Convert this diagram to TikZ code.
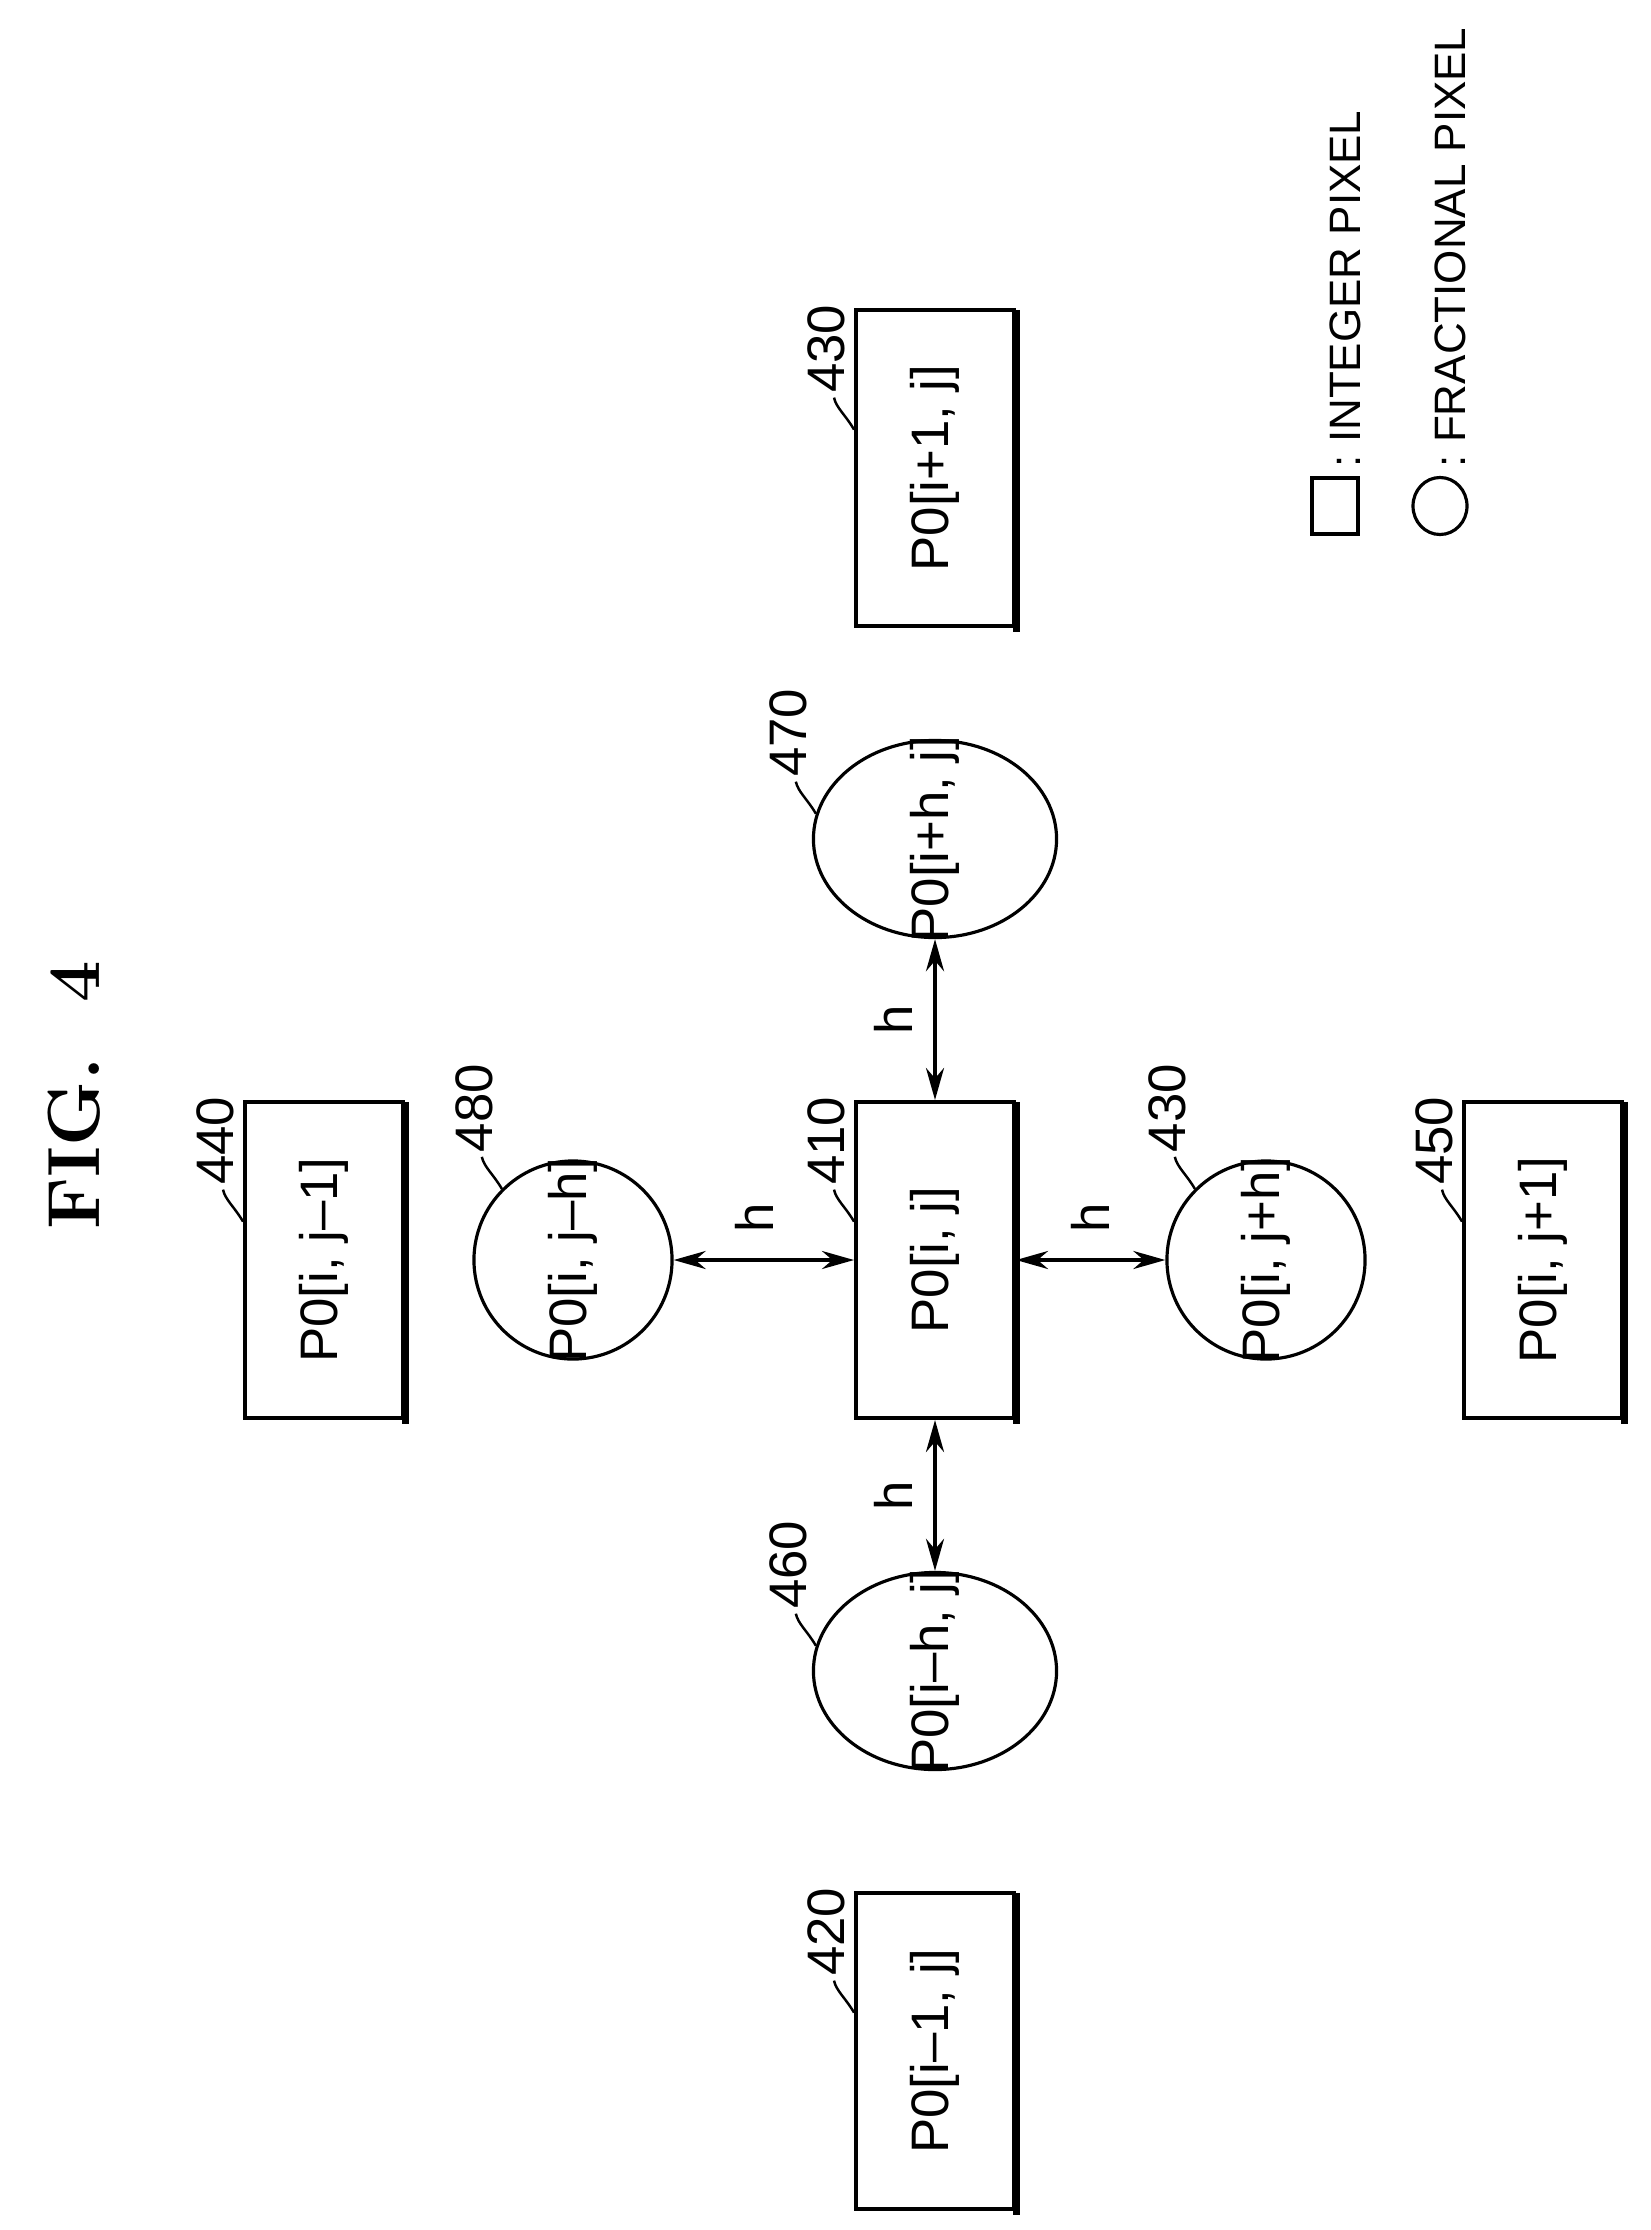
\documentclass[tikz,border=0pt]{standalone}
\usepackage{fontspec}
\setsansfont{Liberation Sans}
\usetikzlibrary{arrows.meta,shapes.geometric,calc}
\newcommand{\lblfont}{\sffamily\fontsize{15}{18}\selectfont}
\newcommand{\legfont}{\sffamily\fontsize{12.5}{15}\selectfont}
\begin{document}
\begin{tikzpicture}[x=0.01cm,y=-0.01cm,
  box/.style={draw,line width=1.1pt,minimum width=1.58cm,minimum height=3.16cm,inner sep=0pt,font=\lblfont},
  circ/.style={draw,line width=0.9pt,circle,minimum size=1.98cm,inner sep=0pt},
  ell/.style={draw,line width=0.9pt,ellipse,minimum width=2.43cm,minimum height=1.97cm,inner sep=0pt},
  rot/.style={rotate=90,inner sep=0pt,font=\lblfont},
  lead/.style={line width=0.7pt},
  dbl/.style={line width=1.1pt,{Stealth[length=3.2mm,width=1.8mm]}-{Stealth[length=3.2mm,width=1.8mm]}}]
\useasboundingbox (0,0) rectangle (1650,2230);
% title
\node[rotate=90,font=\fontsize{21}{26}\selectfont\bfseries] (title) at (74,1095) {FIG.\ \ 4};
% boxes
\node[box] (b410) at (935,1260) {\rotatebox{90}{P0[i, j]}};
\node[box] (b440) at (324,1260) {\rotatebox{90}{P0[i, j–1]}};
\node[box] (b450) at (1543,1260) {\rotatebox{90}{P0[i, j+1]}};
\node[box] (b430) at (935,468) {\rotatebox{90}{P0[i+1, j]}};
\node[box] (b420) at (935,2051) {\rotatebox{90}{P0[i–1, j]}};
\foreach \b in {b410,b440,b450,b430,b420}{
  \draw[line width=1.6pt] ($(\b.north east)+(1,2)$) -- ($(\b.south east)+(1,1)$) -- ($(\b.south east)+(-3,1)$);
}
% fractional pixels
\node[circ] (c480) at (573,1260) {};
\node[rot] (x480) at (c480.center) {P0[i, j–h]};
\node[circ] (c430) at (1266,1260) {};
\node[rot] (x430) at (c430.center) {P0[i, j+h]};
\node[ell] (e470) at (935,839) {};
\node[rot] (x470) at (e470.center) {P0[i+h, j]};
\node[ell] (e460) at (935,1671) {};
\node[rot] (x460) at (e460.center) {P0[i–h, j]};
% arrows
\draw[dbl] (c480.east) -- (b410.west);
\node[rot] (h1) at ($(c480.east)!0.45!(b410.west)+(0,-42)$) {h};
\draw[dbl] (b410.east) -- (c430.west);
\node[rot] (h2) at ($(b410.east)!0.5!(c430.west)+(0,-42)$) {h};
\draw[dbl] (b410.north) -- (e470.south);
\node[rot] (h3) at ($(b410.north)!0.5!(e470.south)+(-42,0)$) {h};
\draw[dbl] (b410.south) -- (e460.north);
\node[rot] (h4) at ($(b410.south)!0.5!(e460.north)+(-42,0)$) {h};
% leaders and reference numbers
\foreach \b/\n in {b410/410,b440/440,b450/450,b430/430,b420/420}{
  \coordinate (l\n) at ($(\b.north west)!0.38!(\b.south west)$);
  \coordinate (s\n) at ($(l\n)+(-20,-32)$);
  \draw[lead] (l\n) .. controls +(-8,-14) and +(2,10) .. (s\n);
  \node[rot,anchor=west] (t\n) at ($(s\n)+(-8,-4)$) {\n};
}
\foreach \c/\a/\n in {c480/135/480,c430/135/431,e470/168/470,e460/168/460}{
  \coordinate (l\n) at (\c.\a);
  \coordinate (s\n) at ($(l\n)+(-20,-32)$);
  \draw[lead] (l\n) .. controls +(-8,-14) and +(2,10) .. (s\n);
}
\node[rot,anchor=west] (t480) at ($(s480)+(-8,-4)$) {480};
\node[rot,anchor=west] (t431) at ($(s431)+(-8,-4)$) {430};
\node[rot,anchor=west] (t470) at ($(s470)+(-8,-4)$) {470};
\node[rot,anchor=west] (t460) at ($(s460)+(-8,-4)$) {460};
% legend
\node[draw,line width=1.1pt,minimum width=0.46cm,minimum height=0.56cm,inner sep=0pt] (lsq) at (1335,506) {};
\node[draw,line width=0.9pt,ellipse,minimum width=0.54cm,minimum height=0.57cm,inner sep=0pt] (lci) at (1440,506) {};
\node[rot,anchor=west,font=\legfont] (tint) at (1345,468) {:\ INTEGER PIXEL};
\node[rot,anchor=west,font=\legfont] (tfra) at (1450,468) {:\ FRACTIONAL PIXEL};
\end{tikzpicture}
\end{document}
